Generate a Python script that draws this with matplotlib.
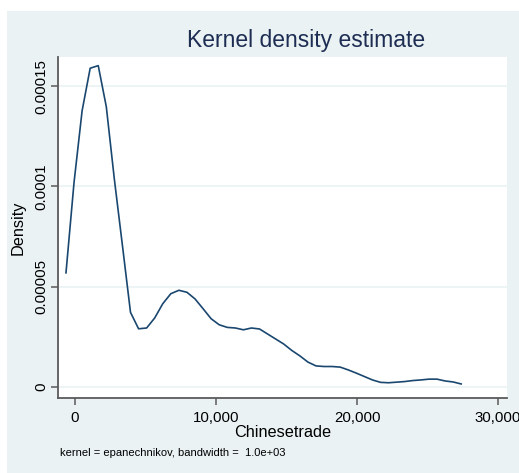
# Kernel density estimate, Stata s2color look
import numpy as np
import matplotlib.pyplot as plt
from matplotlib.patches import Rectangle

plt.rcParams['font.family'] = ['Liberation Sans', 'DejaVu Sans']

# evaluation points (50 of them, as Stata does by default)
x_start = -640
x_step = 572
density = [
    5.69e-5, 1.02e-4, 1.377e-4, 1.589e-4, 1.602e-4, 1.397e-4, 1.035e-4, 7.05e-5,
    3.72e-5, 2.9e-5, 2.94e-5, 3.44e-5, 4.15e-5, 4.65e-5, 4.82e-5, 4.72e-5,
    4.39e-5, 3.9e-5, 3.4e-5, 3.1e-5, 2.97e-5, 2.94e-5, 2.85e-5, 2.94e-5,
    2.89e-5, 2.64e-5, 2.39e-5, 2.14e-5, 1.82e-5, 1.55e-5, 1.24e-5, 1.05e-5,
    1.02e-5, 1.02e-5, 9.9e-6, 8.5e-6, 6.9e-6, 5.2e-6, 3.5e-6, 2.3e-6,
    2.1e-6, 2.4e-6, 2.7e-6, 3.2e-6, 3.5e-6, 3.9e-6, 3.9e-6, 3.0e-6,
    2.5e-6, 1.5e-6,
]
grid_x = [x_start + i * x_step for i in range(len(density))]

xticks = [0, 10000, 20000, 30000]
xtick_labels = ['0', '10,000', '20,000', '30,000']
yticks = [0, 0.00005, 0.0001, 0.00015]
ytick_labels = ['0', '0.00005', '0.0001', '0.00015']

W, H = 519, 473
bg = '#eaf2f3'
navy = '#1a476f'
axis_col = '#5a5a5a'

fig = plt.figure(figsize=(W / 100, H / 100), dpi=100, facecolor='white')

# outer graph region (image is cropped on the right)
outer = Rectangle((7 / W, 0), 1, 1 - 11 / H, transform=fig.transFigure,
                  facecolor=bg, edgecolor='none', zorder=-10)
fig.add_artist(outer)

ax = fig.add_axes([58 / W, 1 - 398 / H, (507 - 58) / W, (398 - 57) / H])
ax.set_facecolor('white')
ax.set_zorder(1)

ax.plot(grid_x, density, color=navy, lw=1.2)

ax.set_xlim(-1206, 30638)
ax.set_ylim(-0.0000055, 0.0001645)

ax.set_xticks(xticks)
ax.set_xticklabels(xtick_labels, fontsize=10.8)
ax.set_yticks(yticks)
ax.set_yticklabels(ytick_labels, fontsize=10.8, rotation=90, va='center')

for y in yticks:
    ax.axhline(y, color=bg, lw=1.2, zorder=0)

for s in ['top', 'right']:
    ax.spines[s].set_visible(False)
for s in ['left', 'bottom']:
    ax.spines[s].set_color(axis_col)
    ax.spines[s].set_linewidth(1.3)
ax.tick_params(color=axis_col, width=1.1, length=5, labelcolor='black')
ax.tick_params(axis='y', pad=2)
ax.tick_params(axis='x', pad=4)

ax.set_xlabel('Chinesetrade', fontsize=11.7, labelpad=0)
ax.set_ylabel('Density', fontsize=11.7, labelpad=6)

fig.text(306 / W, 1 - 40 / H, 'Kernel density estimate', fontsize=16.5,
         color='#1e2d53', ha='center', va='center')
fig.text(60 / W, 1 - 453 / H, 'kernel = epanechnikov, bandwidth =  1.0e+03',
         fontsize=8, ha='left', va='center')

fig.savefig('out.png', dpi=100, facecolor=fig.get_facecolor())
